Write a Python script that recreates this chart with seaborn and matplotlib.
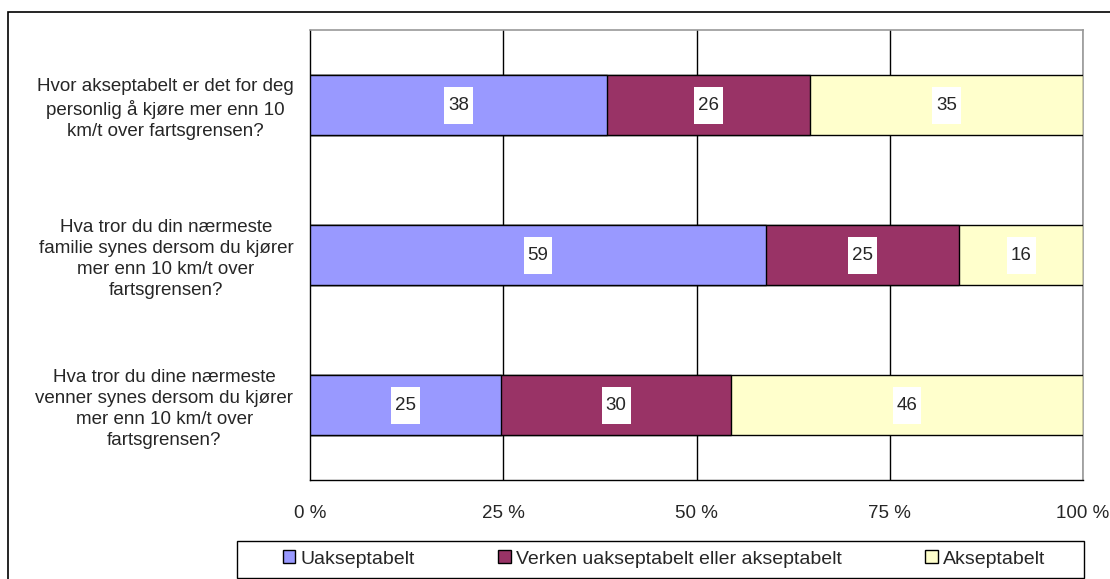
import matplotlib
matplotlib.use("Agg")
import matplotlib.pyplot as plt
from matplotlib.patches import Rectangle, Patch
from matplotlib.path import Path
import seaborn as sns
import numpy as np
import pandas as pd

# Data
questions = [
    "Hvor akseptabelt er det for deg\npersonlig å kjøre mer enn 10\nkm/t over fartsgrensen?",
    "Hva tror du din nærmeste\nfamilie synes dersom du kjører\nmer enn 10 km/t over\nfartsgrensen?",
    "Hva tror du dine nærmeste\nvenner synes dersom du kjører\nmer enn 10 km/t over\nfartsgrensen?",
]
series_names = ["Uakseptabelt", "Verken uakseptabelt eller akseptabelt", "Akseptabelt"]
uakseptabelt = [38, 59, 25]
verken = [26, 25, 30]
akseptabelt = [35, 16, 46]
x_ticks = [0, 25, 50, 75, 100]
x_tick_labels = ["0 %", "25 %", "50 %", "75 %", "100 %"]

colors = ["#9999FF", "#993366", "#FFFFCC"]
FS = 13.5

vals = np.array([uakseptabelt, verken, akseptabelt], dtype=float)
shares = vals / vals.sum(axis=0) * 100  # 100% stacked
cum = np.cumsum(shares, axis=0)


def label_box(x0, y0, width, height, mutation_size):
    # white box, narrower padding sideways than vertically (Excel look)
    px, py = 4, 10
    x0, x1 = x0 - px, x0 + width + px
    y0, y1 = y0 - py, y0 + height + py
    return Path([(x0, y0), (x1, y0), (x1, y1), (x0, y1), (x0, y0)], closed=True)


sns.set_style("white")
plt.rcParams["font.family"] = ["Liberation Sans", "DejaVu Sans"]

fig = plt.figure(figsize=(11.1, 5.79), dpi=100)
ax = fig.add_axes([310 / 1110, 1 - 480 / 579, (1083 - 310) / 1110, 450 / 579])

# draw cumulative layers, largest first so smaller ones sit on top
for i in range(2, -1, -1):
    df = pd.DataFrame({"q": questions, "v": cum[i]})
    sns.barplot(data=df, x="v", y="q", orient="h", color=colors[i], saturation=1,
                width=0.4, edgecolor="black", linewidth=1, ax=ax, zorder=3)

# value labels in white boxes
starts = np.vstack([np.zeros(3), cum[:-1]])
for i in range(3):
    for j in range(3):
        xc = starts[i, j] + shares[i, j] / 2
        ax.text(xc, j, f"{int(vals[i, j])}", ha="center", va="center", fontsize=FS,
                zorder=5, bbox=dict(boxstyle=label_box, facecolor="white", edgecolor="none"))

ax.set_xlim(0, 100)
ax.set_ylim(2.5, -0.5)
ax.set_xticks(x_ticks)
ax.set_xticklabels(x_tick_labels, fontsize=FS)
ax.set_xlabel("")
ax.set_ylabel("")
ax.set_yticks(range(3))
ax.set_yticklabels(questions, fontsize=FS, multialignment="center", linespacing=1.3)
ax.tick_params(axis="y", which="major", length=0, pad=12)
ax.set_yticks([-0.5, 0.5, 1.5, 2.5], minor=True)
ax.tick_params(axis="y", which="minor", length=7, width=1, color="black", direction="out")
ax.tick_params(axis="x", length=5, width=1, color="black", direction="out", pad=13)

ax.grid(False)
for xv in x_ticks[1:]:
    ax.axvline(xv, color="black", linewidth=1, zorder=1)

for side in ["left", "bottom"]:
    ax.spines[side].set_color("black")
    ax.spines[side].set_linewidth(1)
    ax.spines[side].set_visible(True)
for side in ["top", "right"]:
    ax.spines[side].set_color("#999999")
    ax.spines[side].set_linewidth(1.2)
    ax.spines[side].set_visible(True)

# legend: frameless legend centred inside a drawn box
handles = [Patch(facecolor=c, edgecolor="black", linewidth=1) for c in colors]
fig.legend(handles, series_names, loc="center", ncol=3,
           bbox_to_anchor=(664 / 1110, 1 - 559 / 579),
           fontsize=14, frameon=False, handlelength=0.65, handleheight=0.65,
           handletextpad=0.25, columnspacing=4.3, borderaxespad=0, borderpad=0)
fig.add_artist(Rectangle((237 / 1110, 1 - 578 / 579), (1084 - 237) / 1110, 37 / 579,
                         transform=fig.transFigure, fill=False, edgecolor="black", linewidth=1))

# outer chart frame
fig.add_artist(Rectangle((8 / 1110, -0.05), 1.1, 1 - 12 / 579 + 0.05, transform=fig.transFigure,
                         fill=False, edgecolor="black", linewidth=1.2))

fig.savefig("out.png", dpi=100)
